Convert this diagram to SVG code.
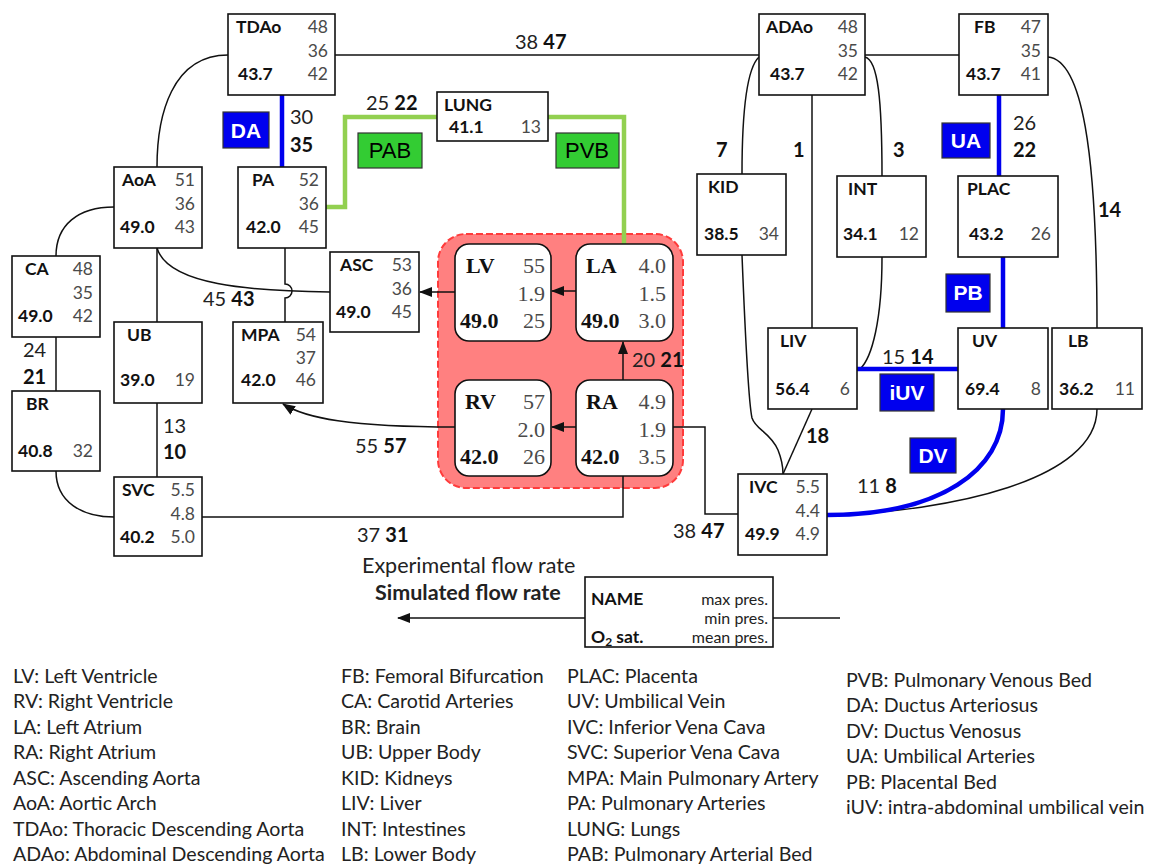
<svg xmlns="http://www.w3.org/2000/svg" width="1149" height="864" viewBox="0 0 1149 864">
<style>
text{font-family:Lato,"Liberation Sans",sans-serif}
.box{fill:#fff;stroke:#111;stroke-width:1.6}
.hbox{fill:#fff;stroke:#111;stroke-width:1.6}
.lb{font-weight:bold;font-size:17.5px;fill:#111}
.n{font-size:17.5px;fill:#4a4a4a;text-anchor:end}
.hl{font-family:"Liberation Serif",serif;font-weight:bold;font-size:22px;fill:#111}
.hn{font-family:"Liberation Serif",serif;font-size:22px;fill:#4a4a4a;text-anchor:end}
.c{fill:none;stroke:#111;stroke-width:1.5}
.blue{fill:none;stroke:#0000ee;stroke-width:4.5}
.green{fill:none;stroke:#92d050;stroke-width:4.5}
.f{font-size:20px;fill:#222}
.b{font-weight:bold;fill:#111}
.tagb{fill:#0000ee;stroke:#333;stroke-width:1.2}
.tagg{fill:#33cc33;stroke:#333;stroke-width:1.2}
.tbt{font-family:"Liberation Sans",sans-serif;font-weight:bold;font-size:21px;fill:#fff;text-anchor:middle}
.tgt{font-family:"Liberation Sans",sans-serif;font-size:22px;fill:#000;text-anchor:middle}
.lg{font-size:19.6px;fill:#222}
.kt{font-size:21.5px;fill:#222}
.kn{font-size:16px;fill:#222;text-anchor:end}
.kb{font-size:17.5px;font-weight:bold;fill:#111}
</style>
<defs>
<marker id="ah" markerUnits="userSpaceOnUse" markerWidth="13" markerHeight="10" refX="12" refY="5" orient="auto">
<path d="M0,0 L13,5 L0,10 z" fill="#111"/>
</marker>
</defs>

<g id="heart-bg">
<rect x="438" y="234" width="245" height="254" rx="28" fill="#ff8080" stroke="#ff3b3b" stroke-width="2" stroke-dasharray="7,3"/>
</g>

<g id="connectors">
<path class="c" d="M335,55 H759"/>
<path class="c" d="M228,55 C172,55 157,115 157,167"/>
<path class="blue" d="M282,95 V167"/>
<path class="c" d="M114,207 C78,207 56,225 56,256"/>
<path class="c" d="M157,248 V322"/>
<path class="c" d="M157,248 C168,285 250,291 330,292"/>
<path class="c" d="M285,248 V284 A7,7 0 0 1 285,298 V322"/>
<path class="c" d="M56,337 V391"/>
<path class="c" d="M56,471 C56,502 82,517 114,517"/>
<path class="c" d="M157,403 V477"/>
<path class="c" d="M202,517 H623 V476"/>
<path class="c" d="M455,292 H420" marker-end="url(#ah)"/>
<path class="c" d="M576,291 H552" marker-end="url(#ah)"/>
<path class="c" d="M623,380 V342" marker-end="url(#ah)"/>
<path class="c" d="M576,427 H552" marker-end="url(#ah)"/>
<path class="c" d="M455,427 C350,427 305,418 283,404" marker-end="url(#ah)"/>
<path class="c" d="M673,427 H705 V514 H738"/>
<path class="green" d="M326,207 H345 V117 H437"/>
<path class="green" d="M548,117 H624 V244"/>
<path class="c" d="M759,57 C745,70 742,120 742,174"/>
<path class="c" d="M812,95 V328"/>
<path class="c" d="M865,57 C878,60 882,100 882,176"/>
<path class="c" d="M865,55 H959"/>
<path class="blue" d="M999,95 V176"/>
<path class="c" d="M1048,57 C1082,60 1097,150 1097,328"/>
<path class="blue" d="M1003,257 V328"/>
<path class="c" d="M882,257 C882,320 872,358 860,369"/>
<path class="blue" d="M857,369 H958"/>
<path class="c" d="M742,255 C745,330 748,400 752,418 C756,430 770,432 778,450 C782,460 783,468 783,474"/>
<path class="c" d="M812,409 L783,474"/>
<path class="c" d="M1097,409 C1097,480 950,512 827,515"/>
<path class="blue" d="M1003,409 C1003,470 940,515 827,515"/>
<path class="c" d="M585,618 H398" marker-end="url(#ah)"/>
<path class="c" d="M773,618 H840"/>
</g>

<g id="TDAo"><rect class="box" x="228" y="14" width="107" height="81"/>
<text class="lb" x="236" y="33">TDAo</text><text class="n" x="328" y="33">48</text><text class="n" x="328" y="57">36</text><text class="lb" x="238" y="80">43.7</text><text class="n" x="328" y="80">42</text></g>
<g id="ADAo"><rect class="box" x="759" y="14" width="106" height="81"/>
<text class="lb" x="766" y="33">ADAo</text><text class="n" x="858" y="33">48</text><text class="n" x="858" y="57">35</text><text class="lb" x="770" y="80">43.7</text><text class="n" x="858" y="80">42</text></g>
<g id="FB"><rect class="box" x="959" y="14" width="89" height="81"/>
<text class="lb" x="974" y="33">FB</text><text class="n" x="1041" y="33">47</text><text class="n" x="1041" y="57">35</text><text class="lb" x="966" y="80">43.7</text><text class="n" x="1041" y="80">41</text></g>
<g id="AoA"><rect class="box" x="114" y="167" width="88" height="81"/>
<text class="lb" x="122" y="186">AoA</text><text class="n" x="195" y="186">51</text><text class="n" x="195" y="210">36</text><text class="lb" x="120" y="233">49.0</text><text class="n" x="195" y="233">43</text></g>
<g id="PA"><rect class="box" x="238" y="167" width="88" height="81"/>
<text class="lb" x="252" y="186">PA</text><text class="n" x="319" y="186">52</text><text class="n" x="319" y="210">36</text><text class="lb" x="246" y="233">42.0</text><text class="n" x="319" y="233">45</text></g>
<g id="LUNG"><rect class="box" x="437" y="92" width="111" height="49"/>
<text class="lb" x="444" y="111">LUNG</text><text class="lb" x="449" y="133">41.1</text><text class="n" x="541" y="133">13</text></g>
<g id="KID"><rect class="box" x="697" y="174" width="89" height="81"/>
<text class="lb" x="708" y="193">KID</text><text class="lb" x="704" y="240">38.5</text><text class="n" x="779" y="240">34</text></g>
<g id="INT"><rect class="box" x="837" y="176" width="89" height="81"/>
<text class="lb" x="848" y="195">INT</text><text class="lb" x="843" y="240">34.1</text><text class="n" x="919" y="240">12</text></g>
<g id="PLAC"><rect class="box" x="958" y="176" width="100" height="81"/>
<text class="lb" x="967" y="195">PLAC</text><text class="lb" x="969" y="240">43.2</text><text class="n" x="1051" y="240">26</text></g>
<g id="CA"><rect class="box" x="12" y="256" width="88" height="81"/>
<text class="lb" x="25" y="275">CA</text><text class="n" x="93" y="275">48</text><text class="n" x="93" y="299">35</text><text class="lb" x="18" y="322">49.0</text><text class="n" x="93" y="322">42</text></g>
<g id="BR"><rect class="box" x="12" y="391" width="88" height="80"/>
<text class="lb" x="26" y="410">BR</text><text class="lb" x="18" y="457">40.8</text><text class="n" x="93" y="457">32</text></g>
<g id="UB"><rect class="box" x="114" y="322" width="88" height="81"/>
<text class="lb" x="127" y="341">UB</text><text class="lb" x="120" y="386">39.0</text><text class="n" x="195" y="386">19</text></g>
<g id="MPA"><rect class="box" x="233" y="322" width="90" height="81"/>
<text class="lb" x="241" y="341">MPA</text><text class="n" x="316" y="341">54</text><text class="n" x="316" y="364">37</text><text class="lb" x="241" y="386">42.0</text><text class="n" x="316" y="386">46</text></g>
<g id="ASC"><rect class="box" x="330" y="252" width="89" height="80"/>
<text class="lb" x="340" y="271">ASC</text><text class="n" x="412" y="271">53</text><text class="n" x="412" y="295">36</text><text class="lb" x="336" y="318">49.0</text><text class="n" x="412" y="318">45</text></g>
<g id="SVC"><rect class="box" x="114" y="477" width="88" height="79"/>
<text class="lb" x="122" y="496">SVC</text><text class="n" x="195" y="496">5.5</text><text class="n" x="195" y="520">4.8</text><text class="lb" x="120" y="543">40.2</text><text class="n" x="195" y="543">5.0</text></g>
<g id="LIV"><rect class="box" x="768" y="328" width="89" height="81"/>
<text class="lb" x="780" y="347">LIV</text><text class="lb" x="775" y="395">56.4</text><text class="n" x="850" y="395">6</text></g>
<g id="UV"><rect class="box" x="958" y="328" width="90" height="81"/>
<text class="lb" x="972" y="347">UV</text><text class="lb" x="965" y="395">69.4</text><text class="n" x="1041" y="395">8</text></g>
<g id="LB"><rect class="box" x="1052" y="328" width="90" height="81"/>
<text class="lb" x="1068" y="347">LB</text><text class="lb" x="1059" y="395">36.2</text><text class="n" x="1135" y="395">11</text></g>
<g id="IVC"><rect class="box" x="738" y="474" width="89" height="81"/>
<text class="lb" x="749" y="493">IVC</text><text class="n" x="820" y="493">5.5</text><text class="n" x="820" y="517">4.4</text><text class="lb" x="745" y="540">49.9</text><text class="n" x="820" y="540">4.9</text></g>

<g id="LV"><rect class="hbox" x="455" y="244" width="96" height="97" rx="14"/>
<text class="hl" x="466" y="273">LV</text><text class="hn" x="545" y="273">55</text><text class="hn" x="545" y="301">1.9</text><text class="hl" x="460" y="328">49.0</text><text class="hn" x="545" y="328">25</text></g>
<g id="LA"><rect class="hbox" x="576" y="244" width="97" height="97" rx="14"/>
<text class="hl" x="586" y="273">LA</text><text class="hn" x="666" y="273">4.0</text><text class="hn" x="666" y="301">1.5</text><text class="hl" x="581" y="328">49.0</text><text class="hn" x="666" y="328">3.0</text></g>
<g id="RV"><rect class="hbox" x="455" y="380" width="96" height="96" rx="14"/>
<text class="hl" x="465" y="409">RV</text><text class="hn" x="545" y="409">57</text><text class="hn" x="545" y="437">2.0</text><text class="hl" x="460" y="464">42.0</text><text class="hn" x="545" y="464">26</text></g>
<g id="RA"><rect class="hbox" x="576" y="380" width="97" height="96" rx="14"/>
<text class="hl" x="586" y="409">RA</text><text class="hn" x="666" y="409">4.9</text><text class="hn" x="666" y="437">1.9</text><text class="hl" x="581" y="464">42.0</text><text class="hn" x="666" y="464">3.5</text></g>

<g id="tags">
<rect class="tagb" x="223" y="112" width="46" height="36"/><text class="tbt" x="246" y="138">DA</text>
<rect class="tagg" x="358" y="133" width="64" height="35"/><text class="tgt" x="390" y="158">PAB</text>
<rect class="tagg" x="556" y="133" width="63" height="35"/><text class="tgt" x="587" y="158">PVB</text>
<rect class="tagb" x="942" y="123" width="48" height="35"/><text class="tbt" x="966" y="148">UA</text>
<rect class="tagb" x="946" y="274" width="44" height="38"/><text class="tbt" x="968" y="300">PB</text>
<rect class="tagb" x="880" y="374" width="54" height="37"/><text class="tbt" x="907" y="400">iUV</text>
<rect class="tagb" x="910" y="438" width="46" height="35"/><text class="tbt" x="933" y="463">DV</text>
</g>

<g id="flows">
<text class="f" x="515" y="49">38 <tspan class="b">47</tspan></text>
<text class="f" x="290" y="124">30</text><text class="f b" x="290" y="152">35</text>
<text class="f" x="366" y="110">25 <tspan class="b">22</tspan></text>
<text class="f b" x="716" y="157">7</text>
<text class="f b" x="793" y="157">1</text>
<text class="f b" x="893" y="157">3</text>
<text class="f" x="1013" y="130">26</text><text class="f b" x="1013" y="157">22</text>
<text class="f b" x="1098" y="217">14</text>
<text class="f" x="203" y="306">45 <tspan class="b">43</tspan></text>
<text class="f" x="23" y="357">24</text><text class="f b" x="23" y="384">21</text>
<text class="f" x="163" y="433">13</text><text class="f b" x="163" y="459">10</text>
<text class="f" x="355" y="453">55 <tspan class="b">57</tspan></text>
<text class="f" x="357" y="542">37 <tspan class="b">31</tspan></text>
<text class="f" x="632" y="367">20 <tspan class="b">21</tspan></text>
<text class="f" x="673" y="538">38 <tspan class="b">47</tspan></text>
<text class="f" x="882" y="364">15 <tspan class="b">14</tspan></text>
<text class="f b" x="806" y="443">18</text>
<text class="f" x="857" y="493">11 <tspan class="b">8</tspan></text>
</g>

<g id="key">
<text class="kt" x="362" y="573">Experimental flow rate</text>
<text class="kt b" x="375" y="600">Simulated flow rate</text>
<rect class="box" x="585" y="577" width="188" height="70"/>
<text class="kb" x="591" y="605">NAME</text>
<text class="kn" x="768" y="605">max pres.</text>
<text class="kn" x="768" y="624">min pres.</text>
<text class="kb" x="591" y="643">O<tspan font-size="12" dy="3">2</tspan><tspan dy="-3"> sat.</tspan></text>
<text class="kn" x="768" y="643">mean pres.</text>
</g>

<g id="legend">
<text class="lg" x="13" y="683">LV: Left Ventricle</text>
<text class="lg" x="13" y="708">RV: Right Ventricle</text>
<text class="lg" x="13" y="734">LA: Left Atrium</text>
<text class="lg" x="13" y="759">RA: Right Atrium</text>
<text class="lg" x="13" y="785">ASC: Ascending Aorta</text>
<text class="lg" x="13" y="810">AoA: Aortic Arch</text>
<text class="lg" x="13" y="836">TDAo: Thoracic Descending Aorta</text>
<text class="lg" x="13" y="861">ADAo: Abdominal Descending Aorta</text>
<text class="lg" x="341" y="683">FB: Femoral Bifurcation</text>
<text class="lg" x="341" y="708">CA: Carotid Arteries</text>
<text class="lg" x="341" y="734">BR: Brain</text>
<text class="lg" x="341" y="759">UB: Upper Body</text>
<text class="lg" x="341" y="785">KID: Kidneys</text>
<text class="lg" x="341" y="810">LIV: Liver</text>
<text class="lg" x="341" y="836">INT: Intestines</text>
<text class="lg" x="341" y="861">LB: Lower Body</text>
<text class="lg" x="567" y="683">PLAC: Placenta</text>
<text class="lg" x="567" y="708">UV: Umbilical Vein</text>
<text class="lg" x="567" y="734">IVC: Inferior Vena Cava</text>
<text class="lg" x="567" y="759">SVC: Superior Vena Cava</text>
<text class="lg" x="567" y="785">MPA: Main Pulmonary Artery</text>
<text class="lg" x="567" y="810">PA: Pulmonary Arteries</text>
<text class="lg" x="567" y="836">LUNG: Lungs</text>
<text class="lg" x="567" y="861">PAB: Pulmonary Arterial Bed</text>
<text class="lg" x="846" y="687">PVB: Pulmonary Venous Bed</text>
<text class="lg" x="846" y="712">DA: Ductus Arteriosus</text>
<text class="lg" x="846" y="738">DV: Ductus Venosus</text>
<text class="lg" x="846" y="763">UA: Umbilical Arteries</text>
<text class="lg" x="846" y="789">PB: Placental Bed</text>
<text class="lg" x="846" y="814">iUV: intra-abdominal umbilical vein</text>
</g>
</svg>
